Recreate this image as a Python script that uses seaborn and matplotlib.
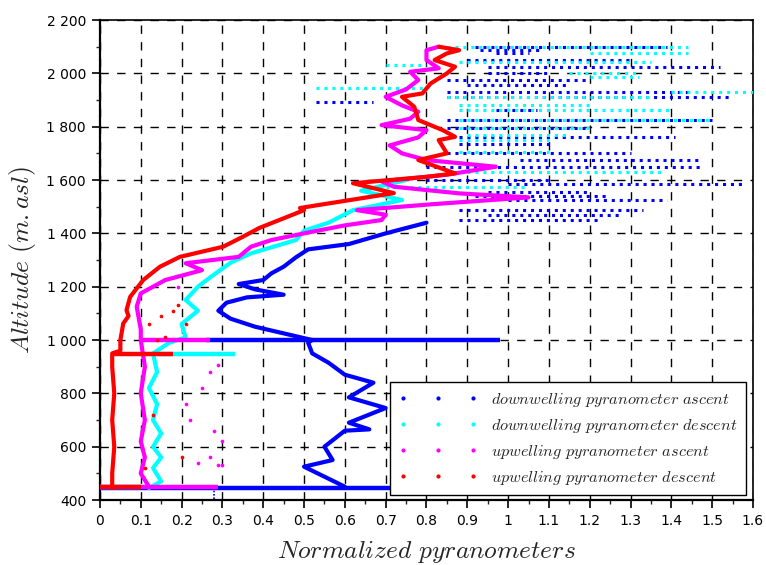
import numpy as np
import pandas as pd
import matplotlib
matplotlib.use("Agg")
import matplotlib.pyplot as plt
import seaborn as sns
from matplotlib.lines import Line2D
from matplotlib.ticker import MultipleLocator, FuncFormatter

# ---------------- data ----------------
series_names = ["downwelling pyranometer ascent", "downwelling pyranometer descent",
                "upwelling pyranometer ascent", "upwelling pyranometer descent"]
series_colors = ["#0000ff", "#00ffff", "#ff00ff", "#ff0000"]

# main continuous profiles (altitude m.asl, normalized value)
down_asc_alt = [450, 480, 525, 550, 600, 660, 665, 690, 745, 785, 840, 870, 915, 950, 990, 1000,
                1050, 1080, 1110, 1140, 1160, 1170, 1190, 1210, 1225, 1250, 1275, 1310, 1340, 1360, 1400, 1440]
down_asc_val = [0.60, 0.56, 0.50, 0.57, 0.55, 0.60, 0.66, 0.61, 0.70, 0.61, 0.67, 0.60, 0.56, 0.52, 0.51, 0.52,
                0.38, 0.32, 0.29, 0.31, 0.36, 0.45, 0.38, 0.34, 0.40, 0.42, 0.45, 0.48, 0.51, 0.61, 0.70, 0.80]

down_desc_alt = [445, 470, 520, 560, 600, 650, 700, 760, 820, 880, 950, 990, 1010, 1060, 1110, 1150,
                 1200, 1235, 1290, 1325, 1375, 1410, 1440, 1487, 1525, 1560, 1600]
down_desc_val = [0.12, 0.15, 0.13, 0.15, 0.13, 0.15, 0.13, 0.14, 0.12, 0.14, 0.13, 0.17, 0.21, 0.20, 0.24, 0.21,
                 0.24, 0.27, 0.32, 0.37, 0.48, 0.50, 0.56, 0.62, 0.74, 0.64, 0.75]

up_asc_alt = [450, 500, 560, 620, 700, 800, 900, 1000, 1040, 1125, 1175, 1225, 1262, 1288, 1312, 1350, 1375,
              1400, 1430, 1450, 1470, 1487, 1510, 1535, 1550, 1575, 1595, 1620, 1650, 1675, 1700, 1730,
              1760, 1787, 1806, 1830, 1856, 1880, 1912, 1940, 1975, 2006, 2019, 2050, 2087, 2100]
up_asc_val = [0.12, 0.10, 0.11, 0.10, 0.11, 0.10, 0.11, 0.10, 0.10, 0.09, 0.10, 0.16, 0.25, 0.21, 0.34, 0.37, 0.42,
              0.50, 0.60, 0.69, 0.70, 0.63, 0.82, 1.05, 0.88, 0.72, 0.69, 0.85, 0.97, 0.80, 0.74, 0.71,
              0.78, 0.80, 0.69, 0.76, 0.78, 0.74, 0.70, 0.75, 0.78, 0.76, 0.83, 0.80, 0.80, 0.83]

up_desc_alt = [445, 500, 600, 700, 800, 900, 950, 960, 1000, 1062, 1090, 1112, 1162, 1225, 1275, 1312, 1350,
               1388, 1420, 1487, 1495, 1505, 1551, 1588, 1612, 1625, 1675, 1700, 1750, 1762, 1787, 1825,
               1875, 1912, 1925, 1962, 2000, 2025, 2050, 2075, 2087, 2100]
up_desc_val = [0.03, 0.03, 0.035, 0.03, 0.035, 0.03, 0.03, 0.05, 0.05, 0.057, 0.07, 0.065, 0.074, 0.106, 0.147,
               0.196, 0.302, 0.351, 0.39, 0.50, 0.49, 0.53, 0.72, 0.62, 0.80, 0.87, 0.78, 0.85, 0.83, 0.87,
               0.84, 0.78, 0.77, 0.74, 0.79, 0.81, 0.85, 0.87, 0.82, 0.85, 0.88, 0.83]

# dense horizontal bands (altitude, start value, end value)
down_asc_bands = [(446, 0.0, 0.72), (1000, 0.26, 0.98)]
down_desc_bands = [(948, 0.14, 0.33), (447, 0.0, 0.10)]
up_asc_bands = [(447, 0.0, 0.29), (1000, 0.10, 0.27)]
up_desc_bands = [(948, 0.03, 0.18), (450, 0.0, 0.10)]

# blue thin vertical trace near the ground (value, altitude bottom, altitude top)
down_asc_vtrace = (0.28, 404, 446)

# sparse dotted streaks (altitude, start value, end value)
down_asc_streaks = [(1450, 0.88, 1.22), (1470, 0.95, 1.28), (1487, 0.88, 1.33), (1525, 1.0, 1.39),
                    (1540, 0.92, 1.25), (1556, 0.95, 1.20), (1587, 1.0, 1.575), (1600, 0.80, 1.10),
                    (1650, 0.80, 1.47), (1675, 1.03, 1.47), (1700, 0.85, 1.30), (1737, 0.88, 1.10),
                    (1762, 0.88, 1.41), (1794, 0.85, 1.20), (1825, 0.85, 1.50), (1862, 0.97, 1.07),
                    (1894, 0.53, 0.67), (1912, 0.85, 1.55), (1931, 0.85, 1.45), (1955, 0.90, 1.15),
                    (1975, 0.85, 1.20), (2000, 0.95, 1.10), (2025, 0.95, 1.52), (2050, 0.90, 1.30),
                    (2075, 0.97, 1.05), (2088, 0.93, 1.08), (2100, 0.92, 1.39)]
down_desc_streaks = [(1946, 0.53, 0.80), (2100, 0.85, 1.44), (2075, 1.20, 1.44), (2042, 0.88, 1.35),
                     (2000, 1.15, 1.32), (1931, 1.40, 1.60), (1912, 0.85, 1.35), (1862, 0.88, 1.40),
                     (1825, 0.88, 1.50), (1794, 0.88, 1.20), (1750, 0.88, 1.10), (1706, 0.88, 1.10),
                     (1631, 0.90, 1.38), (1575, 0.70, 1.05), (2031, 0.70, 0.80), (1985, 1.20, 1.32),
                     (1880, 0.88, 1.20), (1770, 0.90, 1.15)]

# isolated points (value, altitude)
up_asc_pts_val = [0.25, 0.27, 0.29, 0.22, 0.28, 0.30, 0.21, 0.27, 0.24, 0.29, 0.30, 0.19]
up_asc_pts_alt = [820, 880, 905, 700, 660, 620, 760, 560, 540, 530, 530, 1200]
up_desc_pts_val = [0.12, 0.15, 0.18, 0.13, 0.20, 0.11, 0.16, 0.19, 0.14, 0.21]
up_desc_pts_alt = [1060, 1090, 1110, 720, 560, 520, 1010, 1130, 1000, 1060]

x_ticks = [0, 0.1, 0.2, 0.3, 0.4, 0.5, 0.6, 0.7, 0.8, 0.9, 1, 1.1, 1.2, 1.3, 1.4, 1.5, 1.6]
y_ticks = [400, 600, 800, 1000, 1200, 1400, 1600, 1800, 2000, 2200]

# ---------------- build tables ----------------
profiles = pd.concat([
    pd.DataFrame({"value": v, "alt": a, "series": n})
    for v, a, n in zip([down_asc_val, down_desc_val, up_asc_val, up_desc_val],
                       [down_asc_alt, down_desc_alt, up_asc_alt, up_desc_alt], series_names)
], ignore_index=True)

sns.set_style("white")
plt.rcParams["mathtext.fontset"] = "cm"
plt.rcParams["font.family"] = ["DejaVu Sans"]

fig = plt.figure(figsize=(7.66, 5.65), dpi=100)
ax = fig.add_axes([0.1305, 0.115, 0.8525, 0.8495])

band_sets = [down_asc_bands, down_desc_bands, up_asc_bands, up_desc_bands]
streak_sets = [down_asc_streaks, down_desc_streaks, [], []]

for i, (name, col) in enumerate(zip(series_names, series_colors)):
    z = 3 + i
    for (alt, x0, x1) in streak_sets[i]:
        ax.hlines(alt, x0, x1, colors=col, linestyles=(0, (1, 1.6)), linewidth=2.2, zorder=z)
    for (alt, x0, x1) in band_sets[i]:
        ax.hlines(alt, x0, x1, colors=col, linewidth=3.2, zorder=z)
    sub = profiles[profiles["series"] == name]
    sns.lineplot(data=sub, x="value", y="alt", sort=False, estimator=None, color=col,
                 linewidth=3.0, ax=ax, zorder=z + 0.5, legend=False)

ax.vlines(down_asc_vtrace[0], down_asc_vtrace[1], down_asc_vtrace[2], colors="#0000ff",
          linewidth=1.2, linestyles=(0, (1, 1)), zorder=3)

sns.scatterplot(x=up_asc_pts_val, y=up_asc_pts_alt, color="#ff00ff", s=7, linewidth=0, ax=ax, zorder=6)
sns.scatterplot(x=up_desc_pts_val, y=up_desc_pts_alt, color="#ff0000", s=7, linewidth=0, ax=ax, zorder=7)

ax.set_xlim(0, 1.6)
ax.set_ylim(400, 2200)
ax.set_xticks(x_ticks)
ax.set_yticks(y_ticks)
ax.xaxis.set_minor_locator(MultipleLocator(0.05))
ax.yaxis.set_minor_locator(MultipleLocator(100))
ax.xaxis.set_major_formatter(FuncFormatter(lambda v, p: f"{v:g}"))
ax.yaxis.set_major_formatter(FuncFormatter(lambda v, p: f"{int(v):,}".replace(",", " ")))
ax.tick_params(axis="both", which="major", direction="out", length=6, width=1.2, pad=4,
               labelsize=10, bottom=True, left=True, top=False, right=False, colors="black")
ax.tick_params(axis="both", which="minor", direction="out", length=3, width=1,
               bottom=True, left=True, top=False, right=False)
for s in ax.spines.values():
    s.set_color("black")
    s.set_linewidth(1.2)
ax.spines["left"].set_linewidth(1.6)
ax.spines["bottom"].set_linewidth(1.6)

ax.grid(True, which="major", color="black", linestyle=(0, (6, 6)), linewidth=1)
ax.set_axisbelow(True)

ax.set_xlabel(r"$Normalized\ pyranometers$", fontsize=18.4, labelpad=8)
ax.set_ylabel(r"$Altitude\ (m.asl)$", fontsize=18.4, labelpad=6)

handles = [Line2D([], [], ls="none", marker=".", markersize=4, color=c) for c in series_colors]
labels = [r"$" + n.replace(" ", r"\ ") + r"$" for n in series_names]
leg = ax.legend(handles, labels, loc="lower right", bbox_to_anchor=(0.989, 0.0104),
                numpoints=3, handlelength=4.9, handletextpad=0.8, fontsize=11.7,
                labelspacing=0.5, borderpad=0.5, borderaxespad=0, frameon=True,
                fancybox=False, framealpha=1)
leg.get_frame().set_edgecolor("black")
leg.get_frame().set_linewidth(1.0)

fig.savefig("out.png", dpi=100)
